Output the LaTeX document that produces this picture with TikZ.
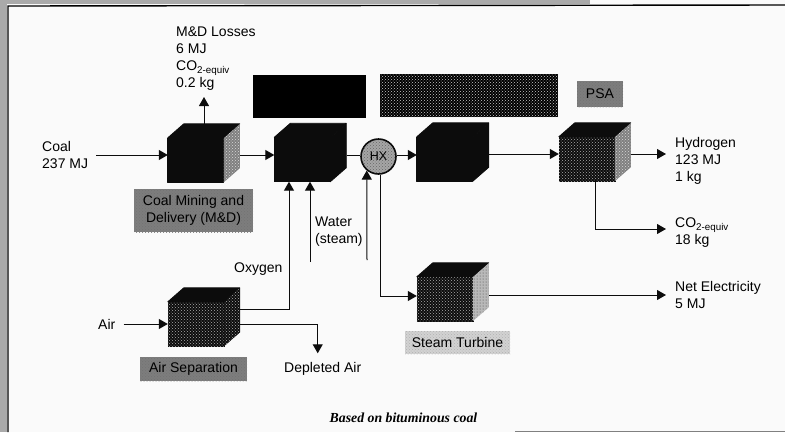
\documentclass[tikz,border=0pt]{standalone}
\usepackage{fontspec}
\usepackage{tikz}
\usepackage{xcolor}
\setmainfont{Liberation Sans}
\newfontfamily\capfont{Liberation Serif}
\usetikzlibrary{arrows.meta, patterns, positioning, calc}
\definecolor{cInk}{RGB}{12,12,12}
\definecolor{cPage}{RGB}{250,250,250}
\definecolor{cBand}{RGB}{170,170,170}
\definecolor{cTag}{RGB}{125,125,125}
\definecolor{cLightTag}{RGB}{210,210,210}
\tikzset{
	txt/.style      ={inner sep=0pt, align=left, text=black, font=\fontsize{14}{17}\selectfont},
	cubenode/.style ={rectangle, minimum width=72pt, minimum height=58pt, inner sep=0pt},
	blacksolid/.style={fill=cInk, draw=cInk, line width=.8pt, line join=round},
	darkspeck/.style={pattern=crosshatch dots, pattern color=gray!65, preaction={fill=cInk, draw=cInk, line width=.4pt}},
	midspeck/.style ={pattern=crosshatch dots, pattern color=gray!30, preaction={fill=gray}},
	lightspeck/.style={pattern=dots, pattern color=black!75, preaction={fill=gray!55}},
	blackbar/.style ={rectangle, inner sep=0pt, fill=black},
	speckbar/.style ={rectangle, inner sep=0pt, pattern=crosshatch dots, pattern color=gray!40, preaction={fill=black}},
	tag/.style      ={rectangle, inner sep=0pt, align=center, text=black, font=\fontsize{14}{17}\selectfont,
		pattern=crosshatch dots, pattern color=black!55, preaction={fill=cTag}},
	lighttag/.style ={tag, pattern color=gray!60, preaction={fill=cLightTag}},
	sig/.style      ={-{Triangle[length=9pt, width=10pt]}, line width=1pt, cInk},
}
% front, top and side face of one cube, hung on the node named #1
\newcommand{\cubefaces}[3]{
	\fill[#2] (#1.south west) -- ++(56,0) -- ++(0,-44) -- ++(-56,0) -- cycle;
	\fill[blacksolid] (#1.north west) ++(0,14) -- ++(16,-14) -- ++(56,0) -- ++(-16,14) -- cycle;
	\fill[#3] (#1.south west) ++(56,0) -- ++(16,-14) -- ++(0,-44) -- ++(-16,14) -- cycle;
}
\begin{document}
\begin{tikzpicture}[x=1pt, y=-1pt]
	\useasboundingbox (0,0) rectangle (785,432);
	\fill[cPage] (0,0) rectangle (785,432);
	% scan edge and frame
	\fill[cBand] (0,0) rectangle (7,432);
	\fill[cBand] (7,0) rectangle (590,4);
	\draw[line width=1.4pt, black] (8,432) -- (8,6) -- (785,5);
	\draw[line width=1pt, gray] (515,431) -- (785,431);
	% cubes
	\node[cubenode] (mining)   at (204,153) {};
	\node[cubenode] (reformer) at (310.5,152.5) {};
	\node[cubenode] (shift)    at (453,152) {};
	\node[cubenode] (psa)      at (595,152) {};
	\node[cubenode] (airsep)   at (204,317) {};
	\node[cubenode] (turbine)  at (453,292) {};
	\cubefaces{mining}{blacksolid}{midspeck}
	\cubefaces{reformer}{blacksolid}{blacksolid}
	\cubefaces{shift}{blacksolid}{blacksolid}
	\cubefaces{psa}{darkspeck}{midspeck}
	\cubefaces{airsep}{darkspeck}{darkspeck}
	\cubefaces{turbine}{darkspeck}{lightspeck}
	% heat exchanger
	\node[circle, draw=cInk, line width=1.6pt, minimum size=35pt, inner sep=0pt, text=black,
		font=\fontsize{12.5}{14}\selectfont, pattern=crosshatch dots, pattern color=black!60,
		preaction={fill=gray!70}] (hx) at (378.5,156.5) {HX};
	% tags
	\node[blackbar, minimum width=113pt, minimum height=43pt] (barone) at (309.5,96.5) {};
	\node[speckbar, minimum width=178pt, minimum height=43pt] (bartwo) at (469,95.5) {};
	\node[tag, minimum width=46pt, minimum height=26pt] (psatag) at (600,94) {PSA};
	\node[tag, minimum width=119pt, minimum height=43pt] (miningtag) at (193.5,210.5) {Coal Mining and\\Delivery (M\&D)};
	\node[tag, minimum width=107pt, minimum height=24pt] (airtag) at (193.5,369) {Air Separation};
	\node[lighttag, minimum width=105pt, minimum height=23pt] (turbinetag) at (457.5,342.5) {Steam Turbine};
	% streams
	\node[txt, anchor=west] (coal) at (42,155) {Coal\\237 MJ};
	\node[txt, anchor=south west] (losses) at (176,91) {M\&D Losses\\6 MJ\\CO\textsubscript{2-equiv}\\0.2 kg};
	\node[txt, anchor=west] (water) at (315,232) {Water\\(steam)};
	\node[txt, anchor=west] (oxygen) at (234,269) {Oxygen};
	\node[txt, anchor=west] (air) at (98,324) {Air};
	\node[txt, anchor=west] (depleted) at (284,369) {Depleted Air};
	\node[txt, anchor=west] (hydrogen) at (675,161) {Hydrogen\\123 MJ\\1 kg};
	\node[txt, anchor=west] (cotwo) at (675,233) {CO\textsubscript{2-equiv}\\18 kg};
	\node[txt, anchor=west] (power) at (675,294.5) {Net Electricity\\5 MJ};
	\node[inner sep=0pt, text=black, font=\capfont\itshape\bfseries\fontsize{13.8}{15}\selectfont] (basis) at (403.5,418) {Based on bituminous coal};
	\coordinate (waterfoot) at (310,262);
	\coordinate (returnfoot) at (367,260);
	% connectors
	\draw[sig] ([xshift=8pt]coal.east) -- (coal.east -| mining.west);
	\draw[sig] (mining.north) -- ([yshift=-6pt]losses.south -| mining.north);
	\draw[sig] ([yshift=-2pt]mining.east) -- ([yshift=-2pt]mining.east -| reformer.west);
	\draw[line width=1pt, cInk] ([yshift=-2.5pt]reformer.east) -- ([yshift=-2.5pt]reformer.east -| hx.west);
	\draw[sig] ([yshift=-3pt]shift.west -| hx.east) -- ([yshift=-3pt]shift.west);
	\draw[sig] ([yshift=-2pt]shift.east) -- ([yshift=-2pt]psa.west);
	\draw[sig] ([yshift=-2pt]psa.east) -- ([xshift=-9pt,yshift=-2pt]psa.east -| hydrogen.west);
	\draw[sig] (psa.south) |- ([xshift=-9pt,yshift=4pt]cotwo.west);
	\draw[sig] ([yshift=-3pt]turbine.east) -- ([xshift=-9pt,yshift=-3pt]turbine.east -| power.west);
	\draw[sig] (waterfoot) -- (waterfoot |- reformer.south);
	\draw[sig] ([yshift=7.5pt]airsep.east) -| ([xshift=-21.5pt]reformer.south);
	\draw[sig] (returnfoot) -- (hx.230);
	\draw[sig] (hx.275) |- ([yshift=-4pt]turbine.west);
	\draw[sig] ([xshift=8pt]air.east) -- (air.east -| airsep.west);
	\draw[sig] ([yshift=-7pt]airsep.east) -| ([xshift=-5pt,yshift=9pt]depleted.north);
\end{tikzpicture}
\end{document}
